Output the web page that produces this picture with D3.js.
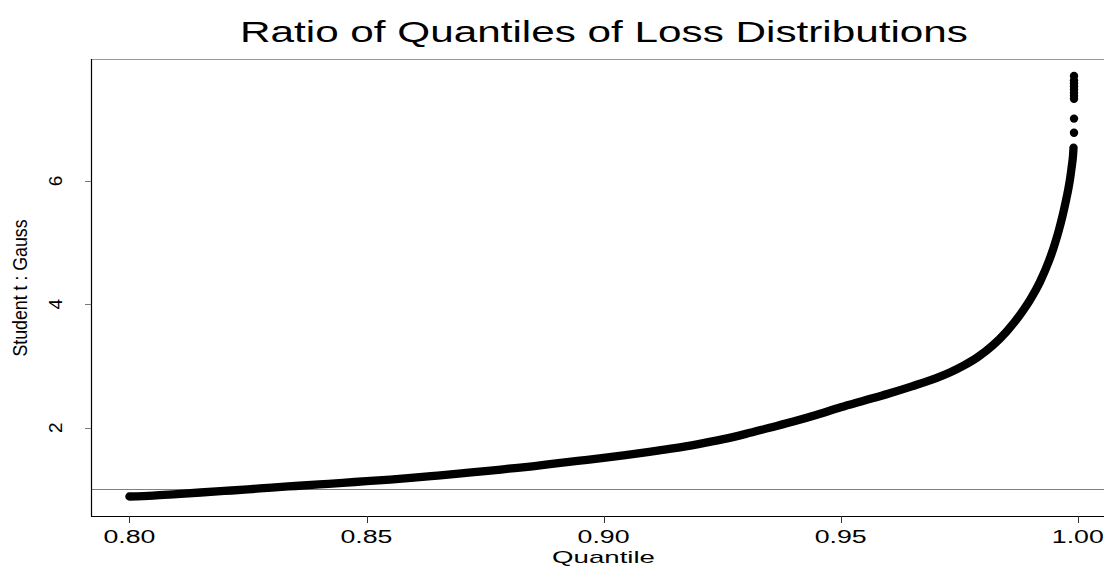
<!DOCTYPE html>
<html>
<head>
<meta charset="utf-8">
<script src="https://cdn.jsdelivr.net/npm/d3@7"></script>
<style>
  html, body { margin: 0; padding: 0; background: #fff; }
  svg { display: block; font-family: "Liberation Sans", Arial, Helvetica, sans-serif; }
</style>
</head>
<body>
<div id="container"></div>
<script>
// quantile level and ratio of quantiles (Student t : Gauss)
const quantile = [0.800, 0.805, 0.810, 0.815, 0.820, 0.825, 0.830, 0.835, 0.840, 0.845,
                  0.850, 0.855, 0.860, 0.865, 0.870, 0.875, 0.880, 0.885, 0.890, 0.895,
                  0.900, 0.905, 0.910, 0.915, 0.920, 0.925, 0.930, 0.935, 0.940, 0.945,
                  0.950, 0.955, 0.960, 0.965, 0.970, 0.973, 0.976, 0.979, 0.982, 0.985,
                  0.988, 0.990, 0.992, 0.994, 0.995, 0.996, 0.9968, 0.9975, 0.9980, 0.9984,
                  0.9987, 0.9990, 0.9991];
const ratio = [0.885, 0.900, 0.925, 0.950, 0.975, 1.000, 1.030, 1.055, 1.080, 1.105,
               1.135, 1.160, 1.190, 1.225, 1.260, 1.295, 1.335, 1.375, 1.420, 1.465,
               1.510, 1.560, 1.612, 1.668, 1.735, 1.810, 1.900, 2.000, 2.100, 2.210,
               2.330, 2.440, 2.550, 2.670, 2.800, 2.895, 3.010, 3.150, 3.330, 3.560,
               3.850, 4.080, 4.360, 4.720, 4.940, 5.200, 5.440, 5.680, 5.870, 6.050,
               6.220, 6.420, 6.540];
// the few separated points at the very top of the tail
const tailQuantile = [0.9992, 0.9992, 0.9992, 0.9992, 0.9992, 0.9992, 0.9992, 0.9992, 0.9992, 0.9992];
const tailRatio = [6.78, 7.01, 7.33, 7.38, 7.43, 7.48, 7.53, 7.58, 7.63, 7.70];

const xTicks = [0.80, 0.85, 0.90, 0.95, 1.00];
const yTicks = [2, 4, 6];
const refLine = 1;

const w = 1104;
const h = 567;
const plotLeft = 91, plotRight = 1111, plotTop = 59, plotBottom = 516;

const svg = d3.select("#container").append("svg")
  .attr("width", w)
  .attr("height", h);

const x = d3.scaleLinear().domain([0.7919, 1.0070]).range([plotLeft, plotRight]);
const y = d3.scaleLinear().domain([0.569, 7.976]).range([plotBottom, plotTop]);

const points = quantile.map((q, i) => [q, ratio[i]]);
const tail = tailQuantile.map((q, i) => [q, tailRatio[i]]);

// reference line at ratio 1
svg.append("line")
  .attr("x1", plotLeft).attr("x2", w)
  .attr("y1", Math.round(y(refLine)) + 0.5).attr("y2", Math.round(y(refLine)) + 0.5)
  .attr("stroke", "#808080").attr("stroke-width", 1);

// the dense band of points
svg.append("path")
  .datum(points)
  .attr("d", d3.line().x(d => x(d[0])).y(d => y(d[1])).curve(d3.curveMonotoneX))
  .attr("fill", "none")
  .attr("stroke", "#000")
  .attr("stroke-width", 8.3)
  .attr("stroke-linecap", "round")
  .attr("stroke-linejoin", "round");

svg.selectAll("circle.tail")
  .data(tail)
  .enter().append("circle")
  .attr("class", "tail")
  .attr("cx", d => x(d[0]))
  .attr("cy", d => y(d[1]))
  .attr("r", 4.2)
  .attr("fill", "#000");

// frame
svg.append("line").attr("x1", plotLeft).attr("x2", w).attr("y1", plotTop + 0.5).attr("y2", plotTop + 0.5)
  .attr("stroke", "#999").attr("stroke-width", 1.2);
svg.append("line").attr("x1", plotLeft + 0.5).attr("x2", plotLeft + 0.5).attr("y1", plotTop).attr("y2", plotBottom + 0.5)
  .attr("stroke", "#000").attr("stroke-width", 1.2);
svg.append("line").attr("x1", plotLeft).attr("x2", w).attr("y1", plotBottom + 0.5).attr("y2", plotBottom + 0.5)
  .attr("stroke", "#000").attr("stroke-width", 1.2);

// x axis
const xAxis = svg.append("g").attr("id", "x-axis");
xAxis.selectAll("line").data(xTicks).enter().append("line")
  .attr("x1", d => Math.round(x(d)) + 0.5).attr("x2", d => Math.round(x(d)) + 0.5)
  .attr("y1", plotBottom).attr("y2", plotBottom + 7)
  .attr("stroke", "#333");
xAxis.selectAll("text").data(xTicks).enter().append("text")
  .attr("x", d => x(d))
  .attr("y", 543)
  .attr("text-anchor", "middle")
  .attr("font-size", 18)
  .attr("textLength", 52)
  .attr("lengthAdjust", "spacingAndGlyphs")
  .text(d => d.toFixed(2));

// y axis
const yAxis = svg.append("g").attr("id", "y-axis");
yAxis.selectAll("line").data(yTicks).enter().append("line")
  .attr("x1", plotLeft - 6).attr("x2", plotLeft)
  .attr("y1", d => Math.round(y(d)) + 0.5).attr("y2", d => Math.round(y(d)) + 0.5)
  .attr("stroke", "#777");
yAxis.selectAll("text").data(yTicks).enter().append("text")
  .attr("transform", d => `translate(62, ${y(d)}) scale(0.95,1) rotate(-90)`)
  .attr("text-anchor", "middle")
  .attr("font-size", 19)
  .text(d => d);

// titles
svg.append("text")
  .attr("x", 604).attr("y", 42)
  .attr("text-anchor", "middle")
  .attr("font-size", 30)
  .attr("textLength", 728)
  .attr("lengthAdjust", "spacingAndGlyphs")
  .text("Ratio of Quantiles of Loss Distributions");

svg.append("text")
  .attr("x", 603.5).attr("y", 563)
  .attr("text-anchor", "middle")
  .attr("font-size", 17)
  .attr("textLength", 103)
  .attr("lengthAdjust", "spacingAndGlyphs")
  .text("Quantile");

svg.append("text")
  .attr("transform", "translate(27, 288) scale(1.2,1) rotate(-90)")
  .attr("text-anchor", "middle")
  .attr("font-size", 17)
  .attr("textLength", 137)
  .attr("lengthAdjust", "spacingAndGlyphs")
  .text("Student t : Gauss");
</script>
</body>
</html>
